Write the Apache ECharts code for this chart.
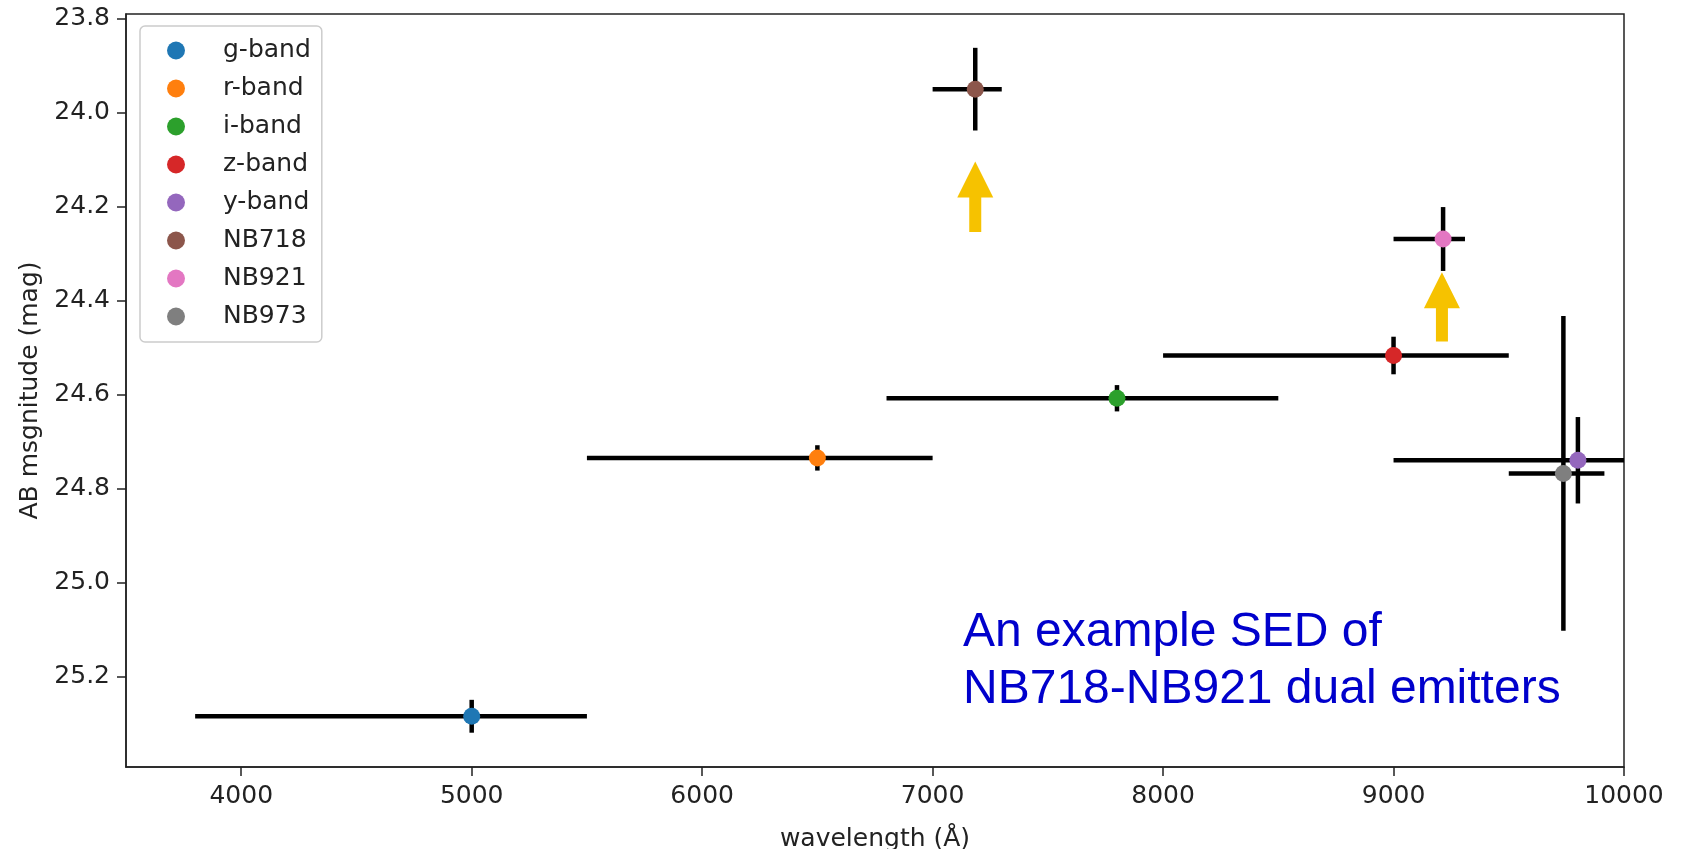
<!DOCTYPE html>
<html>
<head>
<meta charset="utf-8">
<script src="https://cdn.jsdelivr.net/npm/echarts@6/dist/echarts.min.js"></script>
<style>
	html, body { margin: 0; padding: 0; background: #fff; }
	#sed_chart { width: 1681px; height: 849px; }
</style>
</head>
<body>
<div id="sed_chart"></div>
<script>
// bands
var bands = ['g-band', 'r-band', 'i-band', 'z-band', 'y-band', 'NB718', 'NB921', 'NB973'];
var bandColors = ['#1f77b4', '#ff7f0e', '#2ca02c', '#d62728', '#9467bd', '#8c564b', '#e377c2', '#7f7f7f'];
var wavelength = [5000, 6500, 7800, 9000, 9800, 7185, 9215, 9737];
var magnitude = [25.285, 24.735, 24.608, 24.517, 24.740, 23.950, 24.269, 24.768];
// horizontal error bar ends (wavelength)
var waveLow = [3800, 5500, 6800, 8000, 9000, 7000, 9000, 9500];
var waveHigh = [5500, 7000, 8500, 9500, 10600, 7300, 9310, 9915];
// vertical error (mag)
var magErr = [0.035, 0.027, 0.028, 0.04, 0.092, 0.088, 0.068, 0.335];
// upward arrows: [wavelength, tip mag, tail mag]
var arrows = [[7185, 24.104, 24.254], [9210, 24.340, 24.487]];
var xTicks = [4000, 5000, 6000, 7000, 8000, 9000, 10000];
var yTicks = [23.8, 24.0, 24.2, 24.4, 24.6, 24.8, 25.0, 25.2];

window.onload = function () {
	"use strict";
	var chart = echarts.init(document.getElementById('sed_chart'));
	var font = 'DejaVu Sans';
	var fontSize = 25;

	var errData = [];
	for (var i = 0; i < bands.length; i++) {
		errData.push([wavelength[i], magnitude[i], waveLow[i], waveHigh[i],
			magnitude[i] - magErr[i], magnitude[i] + magErr[i]]);
	}

	var series = [{
		type: 'custom',
		clip: true,
		silent: true,
		z: 2,
		encode: { x: 0, y: 1 },
		data: errData,
		renderItem: function (params, api) {
			var a = api.coord([api.value(2), api.value(1)]);
			var b = api.coord([api.value(3), api.value(1)]);
			var c = api.coord([api.value(0), api.value(4)]);
			var d = api.coord([api.value(0), api.value(5)]);
			var st = { stroke: '#000', lineWidth: 4.5 };
			return {
				type: 'group',
				children: [
					{ type: 'line', shape: { x1: a[0], y1: a[1], x2: b[0], y2: b[1] }, style: st },
					{ type: 'line', shape: { x1: c[0], y1: c[1], x2: d[0], y2: d[1] }, style: st }
				]
			};
		}
	}, {
		type: 'custom',
		silent: true,
		z: 2,
		encode: { x: 0, y: 1 },
		data: arrows,
		renderItem: function (params, api) {
			var tip = api.coord([api.value(0), api.value(1)]);
			var tail = api.coord([api.value(0), api.value(2)]);
			var x = tip[0], head = 36, hw = 18, sw = 6;
			return {
				type: 'polygon',
				shape: {
					points: [
						[x, tip[1]], [x + hw, tip[1] + head], [x + sw, tip[1] + head],
						[x + sw, tail[1]], [x - sw, tail[1]], [x - sw, tip[1] + head],
						[x - hw, tip[1] + head]
					]
				},
				style: { fill: '#f6c200' }
			};
		}
	}];

	bands.forEach(function (name, i) {
		series.push({
			name: name,
			type: 'scatter',
			symbol: 'circle',
			symbolSize: 17,
			z: 5,
			itemStyle: { color: bandColors[i], opacity: 1 },
			data: [[wavelength[i], magnitude[i]]]
		});
	});

	var option = {
		animation: false,
		color: bandColors,
		grid: {
			left: 126,
			right: 57,
			top: 14,
			bottom: 82,
			outerBoundsMode: 'none',
			show: true,
			borderColor: '#222',
			borderWidth: 1.5
		},
		legend: {
			orient: 'vertical',
			left: 140,
			top: 26,
			padding: [12, 11, 13, 27],
			itemWidth: 18,
			itemHeight: 18,
			itemGap: 13,
			backgroundColor: '#fff',
			borderColor: '#ccc',
			borderWidth: 1.5,
			borderRadius: 5,
			textStyle: {
				fontFamily: font,
				fontSize: fontSize,
				color: '#222',
				padding: [0, 0, 0, 33]
			},
			data: bands
		},
		xAxis: {
			type: 'value',
			min: 3500,
			max: 10000,
			name: 'wavelength (Å)',
			nameLocation: 'middle',
			nameGap: 60,
			nameTextStyle: { fontFamily: font, fontSize: fontSize, color: '#222' },
			splitLine: { show: false },
			axisLine: { lineStyle: { color: '#222', width: 1.5 } },
			axisTick: { customValues: xTicks, length: 9, lineStyle: { color: '#222', width: 1.5 } },
			axisLabel: {
				customValues: xTicks,
				margin: 17,
				fontFamily: font,
				fontSize: fontSize,
				color: '#222',
				formatter: function (v) { return String(v); }
			}
		},
		yAxis: {
			type: 'value',
			inverse: true,
			min: 23.79,
			max: 25.393,
			name: 'AB msgnitude (mag)',
			nameLocation: 'middle',
			nameGap: 82,
			nameTextStyle: { fontFamily: font, fontSize: fontSize, color: '#222' },
			splitLine: { show: false },
			axisLine: { lineStyle: { color: '#222', width: 1.5 } },
			axisTick: { customValues: yTicks, length: 9, lineStyle: { color: '#222', width: 1.5 } },
			axisLabel: {
				customValues: yTicks,
				margin: 16,
				fontFamily: font,
				fontSize: fontSize,
				color: '#222',
				formatter: function (v) { return v.toFixed(1); }
			}
		},
		graphic: [{
			type: 'text',
			left: 963,
			top: 604,
			silent: true,
			style: {
				text: 'An example SED of\nNB718-NB921 dual emitters',
				font: '48px "Liberation Sans"',
				lineHeight: 57,
				fill: '#0000cc'
			}
		}],
		series: series
	};

	chart.setOption(option);
};
</script>
</body>
</html>
